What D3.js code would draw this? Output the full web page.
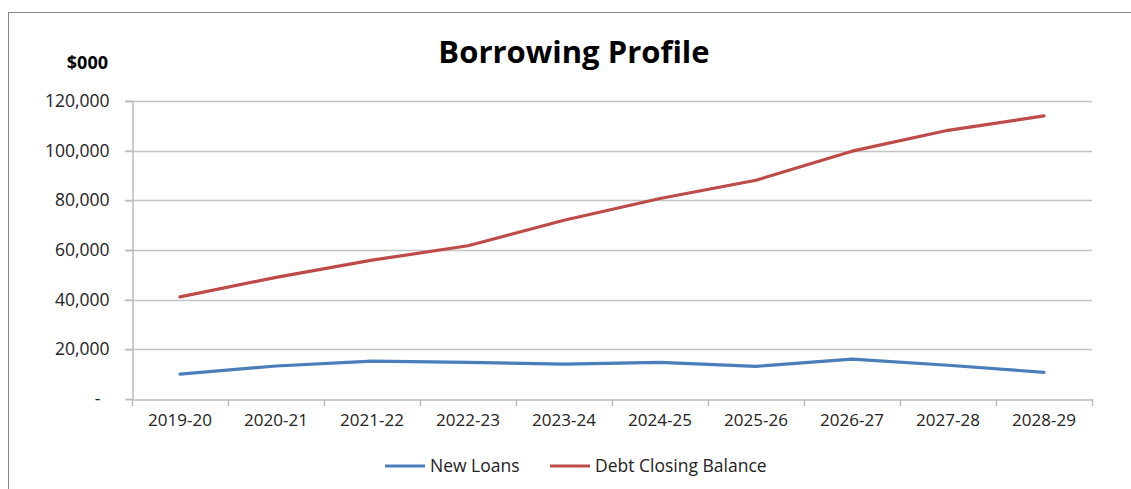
<!DOCTYPE html>
<html>
<head>
<meta charset="utf-8">
<script src="https://cdn.jsdelivr.net/npm/d3@7"></script>
<style>
  body { margin: 0; background: #fff; }
  svg { display: block; font-family: "Open Sans", sans-serif; }
</style>
</head>
<body>
<div id="chart"></div>
<script>
const years = ["2019-20", "2020-21", "2021-22", "2022-23", "2023-24",
               "2024-25", "2025-26", "2026-27", "2027-28", "2028-29"];
const newLoans = [10050, 13280, 15290, 14760, 14080, 14760, 13140, 16090, 13600, 10740];
const debtClosing = [41150, 49000, 55900, 61700, 72000, 80750, 88100, 99800, 108200, 114000];
const yTicks = [0, 20000, 40000, 60000, 80000, 100000, 120000];

const width = 1131;
const height = 489;
const margin = { left: 132, right: 39, top: 101, bottom: 90 };

const svg = d3.select("#chart")
  .append("svg")
  .attr("width", width)
  .attr("height", height);

// outer chart border (only top and left fall inside the picture)
svg.append("rect")
  .attr("x", 8.5)
  .attr("y", 12.5)
  .attr("width", width + 20)
  .attr("height", height + 20)
  .attr("fill", "none")
  .attr("stroke", "#888")
  .attr("stroke-width", 1);

const xScale = d3.scaleBand().domain(years).range([margin.left, width - margin.right]);
const yScale = d3.scaleLinear().domain([0, 120000]).range([height - margin.bottom, margin.top]);

// gridlines
svg.append("g")
  .selectAll("line")
  .data(yTicks.slice(1))
  .join("line")
  .attr("x1", margin.left - 7)
  .attr("x2", width - margin.right)
  .attr("y1", d => Math.round(yScale(d)) + 0.5)
  .attr("y2", d => Math.round(yScale(d)) + 0.5)
  .attr("stroke", "#c4c4c4")
  .attr("stroke-width", 1.5);

// y axis
const yAxis = d3.axisLeft(yScale)
  .tickValues(yTicks)
  .tickSize(7)
  .tickPadding(16)
  .tickFormat(d => d === 0 ? "-" : d3.format(",")(d));

const gy = svg.append("g")
  .attr("transform", `translate(${margin.left + 0.5}, 0)`)
  .call(yAxis);
gy.select(".domain").attr("stroke", "#bbb").attr("stroke-width", 1.5);
gy.selectAll(".tick line").attr("stroke", "#bbb").attr("stroke-width", 1.5);
gy.selectAll(".tick text")
  .attr("font-size", 17.5)
  .attr("fill", "#222")
  .attr("font-family", "'Open Sans', sans-serif")
  .attr("dx", d => d === 0 ? -9 : 0);

// x axis
const xAxis = d3.axisBottom(xScale).tickSize(0).tickPadding(14);
const gx = svg.append("g")
  .attr("transform", `translate(0, ${height - margin.bottom + 0.5})`)
  .call(xAxis);
gx.select(".domain").attr("stroke", "#bbb").attr("stroke-width", 1.5);
gx.selectAll(".tick text")
  .attr("font-size", 17)
  .attr("fill", "#222")
  .attr("font-family", "'Open Sans', sans-serif");

// category boundary tick marks
const bounds = years.map(y => xScale(y)).concat([width - margin.right]);
svg.append("g")
  .selectAll("line")
  .data(bounds)
  .join("line")
  .attr("x1", d => Math.round(d) + 0.5)
  .attr("x2", d => Math.round(d) + 0.5)
  .attr("y1", height - margin.bottom)
  .attr("y2", height - margin.bottom + 7)
  .attr("stroke", "#bbb")
  .attr("stroke-width", 1.5);

const line = d3.line()
  .x((d, i) => xScale(years[i]) + xScale.bandwidth() / 2)
  .y(d => yScale(d));

svg.append("path")
  .datum(debtClosing)
  .attr("d", line)
  .attr("fill", "none")
  .attr("stroke", "#be4b48")
  .attr("stroke-width", 3.2)
  .attr("stroke-linejoin", "round")
  .attr("stroke-linecap", "round");

svg.append("path")
  .datum(newLoans)
  .attr("d", line)
  .attr("fill", "none")
  .attr("stroke", "#4a7ebb")
  .attr("stroke-width", 3.2)
  .attr("stroke-linejoin", "round")
  .attr("stroke-linecap", "round");

// title and unit label
svg.append("text")
  .attr("x", 574)
  .attr("y", 63)
  .attr("text-anchor", "middle")
  .attr("font-size", 31)
  .attr("font-weight", "bold")
  .attr("fill", "#000")
  .text("Borrowing Profile");

svg.append("text")
  .attr("x", 108)
  .attr("y", 69)
  .attr("text-anchor", "end")
  .attr("font-size", 18)
  .attr("font-weight", "bold")
  .attr("fill", "#000")
  .text("$000");

// legend
const legend = [
  { name: "New Loans", color: "#4a7ebb", x: 385 },
  { name: "Debt Closing Balance", color: "#be4b48", x: 550 }
];
const lg = svg.append("g").selectAll("g").data(legend).join("g")
  .attr("transform", d => `translate(${d.x}, 466)`);
lg.append("line")
  .attr("x1", 0).attr("x2", 40)
  .attr("stroke", d => d.color)
  .attr("stroke-width", 3.2);
lg.append("text")
  .attr("x", 45)
  .attr("dy", "0.35em")
  .attr("font-size", 17.5)
  .attr("fill", "#222")
  .text(d => d.name);
</script>
</body>
</html>
